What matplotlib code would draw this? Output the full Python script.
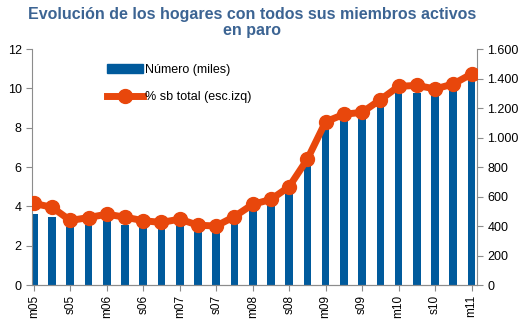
import numpy as np
import matplotlib
matplotlib.use("Agg")
import matplotlib.pyplot as plt
from matplotlib.patches import Patch
from matplotlib.lines import Line2D
from matplotlib.ticker import FuncFormatter

plt.rcParams["font.family"] = ["Liberation Sans", "DejaVu Sans"]

# quarterly data, m05 .. m11
pct_total = [4.15, 3.95, 3.28, 3.43, 3.60, 3.45, 3.27, 3.18, 3.35, 3.04, 3.00, 3.48,
             4.10, 4.35, 5.00, 6.40, 8.30, 8.68, 8.78, 9.42, 10.10, 10.15, 9.97, 10.22, 10.73]
numero_miles = [478, 464, 396, 410, 436, 410, 396, 390, 405, 378, 372, 430,
                514, 554, 622, 810, 1070, 1122, 1132, 1222, 1300, 1303, 1292, 1327, 1392]
tick_labels = ["m05", "s05", "m06", "s06", "m07", "s07", "m08", "s08",
               "m09", "s09", "m10", "s10", "m11"]

blue = "#005A9C"
orange = "#E8470C"
grey = "#8C8C8C"
title_col = "#3C6493"

x = np.arange(len(numero_miles))

fig = plt.figure(figsize=(5.22, 3.31), dpi=100)
ax = fig.add_axes([32 / 522, 1 - 285 / 331, (477 - 32) / 522, (285 - 49) / 331])
ax2 = ax.twinx()

# bars on the right scale
ax2.bar(x, numero_miles, width=0.42, color=blue, zorder=2)
ax2.set_ylim(0, 1600)
ax2.set_yticks(np.arange(0, 1601, 200))
ax2.yaxis.set_major_formatter(FuncFormatter(lambda v, p: f"{v:,.0f}".replace(",", ".")))

# line on the left scale, drawn above the bars
ax.plot(x, pct_total, color=orange, lw=5, marker="o", ms=10, zorder=3,
        solid_capstyle="round")
ax.set_ylim(0, 12)
ax.set_yticks(np.arange(0, 13, 2))
ax.set_zorder(ax2.get_zorder() + 1)
ax.patch.set_visible(False)

ax.set_xlim(-0.1, 24.3)
ax.set_xticks(x[::2])
ax.set_xticklabels(tick_labels, rotation=90)

for a in (ax, ax2):
    for s in a.spines.values():
        s.set_color(grey)
    a.spines["top"].set_visible(False)
    a.tick_params(colors=grey, labelcolor="black", length=4, labelsize=9)
ax.tick_params(axis="x", labelsize=8.5, pad=3)
ax2.spines["left"].set_visible(False)
ax.spines["right"].set_visible(False)

handles = [Patch(color=blue),
           Line2D([0], [0], color=orange, lw=5, marker="o", ms=10)]
fig.legend(handles, ["Número (miles)", "% sb total (esc.izq)"],
           loc="upper left", bbox_to_anchor=(107 / 522, 1 - 64 / 331),
           frameon=False, fontsize=9, handlelength=2.9, handletextpad=0.15,
           labelspacing=1.2, borderpad=0, borderaxespad=0)

fig.text(252 / 522, 1 - 14 / 331, "Evolución de los hogares con todos sus miembros activos",
         ha="center", va="center", fontsize=11.5, fontweight="bold", color=title_col)
fig.text(252 / 522, 1 - 30 / 331, "en paro",
         ha="center", va="center", fontsize=11.5, fontweight="bold", color=title_col)

fig.savefig("out.png", dpi=100)
